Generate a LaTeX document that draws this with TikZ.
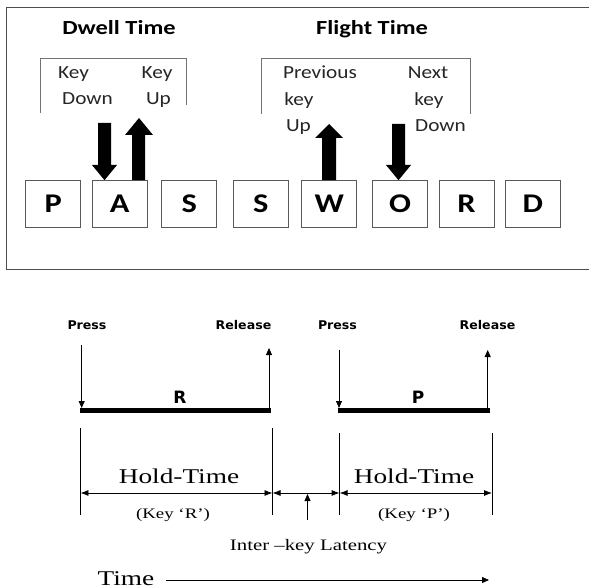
\documentclass[tikz,border=0pt]{standalone}
\usepackage{fontspec}
\setmainfont{Liberation Serif}
\newfontfamily\calfont{Carlito}
\newfontfamily\dvfont{DejaVu Sans}
\usetikzlibrary{arrows.meta}
\tikzset{
  frameline/.style={draw=black!70, line width=1.2pt},
  boxline/.style={draw=black!55, line width=0.9pt},
  keybox/.style={draw=black!65, line width=0.75pt, minimum width=45.8pt, minimum height=47pt, inner sep=0pt,
    font=\calfont\bfseries\fontsize{27}{27}\selectfont, xscale=1.2},
  title/.style={font=\calfont\bfseries\fontsize{20}{20}\selectfont, anchor=base, inner sep=0pt, xscale=1.22},
  lab/.style={font=\calfont\fontsize{18.5}{18.5}\selectfont, anchor=base, inner sep=0pt, xscale=1.15, text=black!85},
  evt/.style={font=\dvfont\bfseries\fontsize{12}{12}\selectfont, anchor=base, inner sep=0pt, xscale=1.05},
  barlab/.style={font=\dvfont\bfseries\fontsize{17}{17}\selectfont, anchor=base, inner sep=0pt},
  serif/.style={anchor=base, inner sep=0pt, xscale=1.3},
  fatarrow/.style={fill=black},
  thinarrow/.style={draw=black, line width=0.8pt, -{Triangle[length=7pt,width=6pt]}},
  dimarrow/.style={draw=black, line width=0.8pt, {Latex[length=8pt,width=6pt]}-{Latex[length=8pt,width=6pt]}},
  tick/.style={draw=black, line width=0.8pt},
  bar/.style={draw=black, line width=5pt}
}
\begin{document}
\begin{tikzpicture}[x=1pt,y=-1pt]
\useasboundingbox (0,0) rectangle (589,588);
\fill[white] (0,0) rectangle (589,588);

% outer frame (right side beyond picture)
\draw[frameline] (589,7.3) -- (6.7,7.3) -- (6.7,269.3) -- (589,269.3);

% titles
\node[title] (dwell) at (119,35) {Dwell Time};
\node[title] (flight) at (372,35) {Flight Time};

% label boxes
\draw[boxline] (40,113) -- (40,58.5) -- (186.5,58.5) -- (186.5,105);
\draw[boxline] (261.5,114) -- (261.5,58.5) -- (470.5,58.5) -- (470.5,114);

\node[lab] (kd1) at (73.5,79) {Key};
\node[lab] (kd2) at (87.5,105) {Down};
\node[lab] (ku1) at (157,79) {Key};
\node[lab] (ku2) at (158.5,105) {Up};

\node[lab] (pk1) at (320,79) {Previous};
\node[lab] (pk2) at (299,106) {key};
\node[lab] (pk3) at (298.5,132) {Up};
\node[lab] (nk1) at (428,79) {Next};
\node[lab] (nk2) at (429,106) {key};
\node[lab] (nk3) at (440.5,132) {Down};

% keys
\node[keybox] (kP) at (53.2,203.7) {P};
\node[keybox] (kA) at (119.8,203.7) {A};
\node[keybox] (kS1) at (189.2,203.7) {S};
\node[keybox] (kS2) at (260.8,203.7) {S};
\node[keybox] (kW) at (329.2,203.7) {W};
\node[keybox] (kO) at (400,203.7) {O};
\node[keybox] (kR) at (466.5,203.7) {R};
\node[keybox] (kD) at (532.8,203.7) {D};

% fat arrows
\fill[fatarrow] (98,123) -- (111,123) -- (111,165) -- (117,165) -- (104.5,180.2) -- (92,165) -- (98,165) -- cycle;
\fill[fatarrow] (132,180.2) -- (145,180.2) -- (145,135) -- (153,135) -- (139,118) -- (125,135) -- (132,135) -- cycle;
\fill[fatarrow] (322,180.2) -- (336,180.2) -- (336,138) -- (343,138) -- (329,124) -- (315,138) -- (322,138) -- cycle;
\fill[fatarrow] (392,124) -- (405,124) -- (405,165) -- (411,165) -- (398.5,180.2) -- (386,165) -- (392,165) -- cycle;

% ===== lower diagram =====
\node[evt] (p1) at (87,329) {Press};
\node[evt] (r1) at (243.5,329) {Release};
\node[evt] (p2) at (337.5,329) {Press};
\node[evt] (r2) at (487.5,329) {Release};

\coordinate (b1s) at (80,410.5);
\coordinate (b1e) at (270.7,410.5);
\coordinate (b2s) at (337.7,410.5);
\coordinate (b2e) at (490,410.5);
\draw[bar] (b1s) -- (b1e);
\draw[bar] (b2s) -- (b2e);

\coordinate (pa1) at (81.7,345);
\coordinate (pa1e) at (81.7,408);
\coordinate (ra1) at (269,408);
\coordinate (ra1e) at (269,348);
\coordinate (pa2) at (339,350);
\coordinate (pa2e) at (339,408);
\coordinate (ra2) at (487.7,408);
\coordinate (ra2e) at (487.7,350);
\draw[thinarrow] (pa1) -- (pa1e);
\draw[thinarrow] (ra1) -- (ra1e);
\draw[thinarrow] (pa2) -- (pa2e);
\draw[thinarrow] (ra2) -- (ra2e);

\node[barlab] (lR) at (180,403) {R};
\node[barlab] (lP) at (418,403) {P};

% ticks
\coordinate (t1a) at (80.4,428); \coordinate (t1b) at (80.4,515);
\coordinate (t2a) at (272.5,428); \coordinate (t2b) at (272.5,515);
\coordinate (t3a) at (339.6,433); \coordinate (t3b) at (339.6,515);
\coordinate (t4a) at (492,433); \coordinate (t4b) at (492,515);
\draw[tick] (t1a) -- (t1b);
\draw[tick] (t2a) -- (t2b);
\draw[tick] (t3a) -- (t3b);
\draw[tick] (t4a) -- (t4b);

\coordinate (d1) at (80.4,493);
\coordinate (d2) at (272.5,493);
\coordinate (d3) at (339.6,493);
\coordinate (d4) at (492,493);
\draw[dimarrow] (d1) -- (d2);
\draw[dimarrow] (d2) -- (d3);
\draw[dimarrow] (d3) -- (d4);

\coordinate (la) at (307.5,520);
\coordinate (lb) at (307.5,494);
\draw[thinarrow] (la) -- (lb);

\node[serif, font=\fontsize{21}{21}\selectfont] (ht1) at (179,483.3) {Hold-Time};
\node[serif, font=\fontsize{21}{21}\selectfont] (ht2) at (414,483.3) {Hold-Time};
\node[serif, font=\fontsize{14.5}{14.5}\selectfont] (kr) at (173,518) {(Key ‘R’)};
\node[serif, font=\fontsize{14.5}{14.5}\selectfont] (kp) at (414,518) {(Key ‘P’)};
\node[serif, font=\fontsize{16}{16}\selectfont] (ikl) at (308.5,550) {Inter –key Latency};

\node[serif, font=\fontsize{21}{21}\selectfont] (time) at (126,585) {Time};
\coordinate (ta) at (166,580);
\coordinate (tb) at (489,580);
\draw[thinarrow] (ta) -- (tb);
\end{tikzpicture}
\end{document}
